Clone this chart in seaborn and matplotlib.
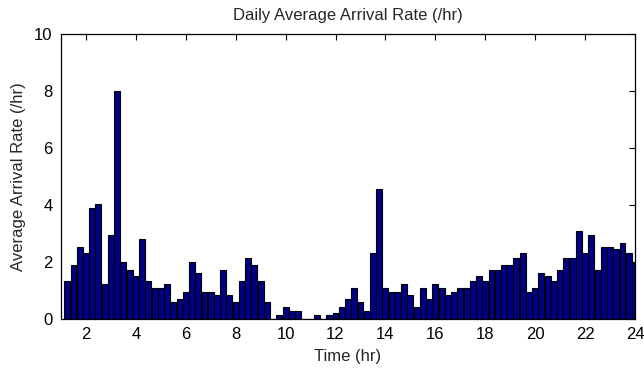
import numpy as np
import pandas as pd
import matplotlib
matplotlib.use("Agg")
import matplotlib.pyplot as plt
import seaborn as sns

# Bar centres (hours) and average arrival rates
times = [1.25 + 0.25 * k for k in range(92)]
rates = [
    1.35, 1.88, 2.54, 2.30, 3.88, 4.02, 1.22, 2.95, 8.00, 2.00,
    1.73, 1.50, 2.80, 1.35, 1.08, 1.08, 1.22, 0.58, 0.70, 0.94,
    2.00, 1.63, 0.94, 0.94, 0.84, 1.73, 0.84, 0.58, 1.35, 2.14,
    1.88, 1.35, 0.58, 0.00, 0.14, 0.42, 0.28, 0.28, 0.00, 0.00,
    0.14, 0.00, 0.14, 0.20, 0.42, 0.70, 1.08, 0.58, 0.28, 2.30,
    4.55, 1.08, 0.94, 0.94, 1.22, 0.84, 0.42, 1.08, 0.70, 1.22,
    1.08, 0.84, 0.94, 1.08, 1.08, 1.35, 1.50, 1.35, 1.73, 1.73,
    1.88, 1.88, 2.14, 2.30, 0.94, 1.08, 1.63, 1.50, 1.35, 1.73,
    2.14, 2.14, 3.08, 2.30, 2.96, 1.73, 2.54, 2.54, 2.45, 2.66,
    2.30, 2.00,
]
x_ticks = [2, 4, 6, 8, 10, 12, 14, 16, 18, 20, 22, 24]
y_ticks = [0, 2, 4, 6, 8, 10]

sns.set_style("white")
plt.rcParams["font.family"] = ["Liberation Sans", "DejaVu Sans"]

df = pd.DataFrame({"time": times, "rate": rates})

fig = plt.figure(figsize=(6.44, 3.71), dpi=100)
ax = fig.add_axes([61 / 644, 1 - 319 / 371, 574 / 644, 285 / 371])

sns.barplot(data=df, x="time", y="rate", native_scale=True, width=0.95,
            color="#000084", saturation=1, edgecolor="black", linewidth=0.8,
            ax=ax)

ax.set_xlim(1, 24)
ax.set_ylim(0, 10)
ax.set_xticks(x_ticks)
ax.set_yticks(y_ticks)
ax.tick_params(direction="in", top=True, right=True, length=4.5, width=0.8,
               labelsize=12, pad=6, colors="black")
for s in ax.spines.values():
    s.set_color("black")
    s.set_linewidth(0.9)
ax.set_xlabel("Time (hr)", fontsize=12, labelpad=5)
ax.set_ylabel("Average Arrival Rate (/hr)", fontsize=12, labelpad=6)
ax.set_title("Daily Average Arrival Rate (/hr)", fontsize=12, pad=10)

fig.savefig("out.png", dpi=100, facecolor="white")
